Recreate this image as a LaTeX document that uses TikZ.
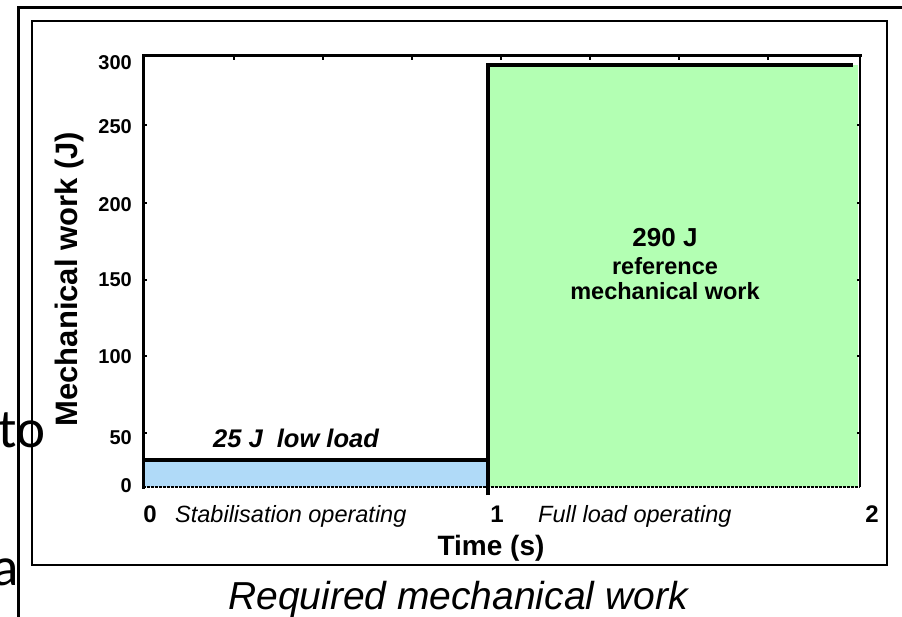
\documentclass[tikz,border=0pt]{standalone}
\usepackage{fontspec}
\setmainfont{Liberation Sans}
\newfontfamily\slidefont{Carlito}
\usepackage{tikz}
\usetikzlibrary{positioning}
\definecolor{lowblue}{HTML}{B0DAF8}
\definecolor{fullgreen}{HTML}{B3FFB3}

\begin{document}
\begin{tikzpicture}[x=1pt, y=-1pt]
    \tikzstyle{ticklabel} = [anchor=base east, inner sep=0pt, font=\fontsize{20}{22}\selectfont\bfseries]
    \tikzstyle{timelabel} = [anchor=base, inner sep=0pt, font=\fontsize{24}{26}\selectfont\bfseries]
    \tikzstyle{phase} = [anchor=base west, inner sep=0pt, font=\fontsize{23.5}{26}\selectfont\itshape]
    \tikzstyle{axistitle} = [anchor=base, inner sep=0pt, font=\fontsize{28}{30}\selectfont\bfseries]
    \tikzstyle{barnote} = [anchor=base, inner sep=0pt, font=\fontsize{23.5}{26}\selectfont\bfseries]
    \tikzstyle{slidetext} = [anchor=base west, inner sep=0pt, font=\slidefont\fontsize{55}{60}\selectfont]

    \useasboundingbox (0,0) rectangle (902,617);
    \clip (0,0) rectangle (902,617);

    % slide text behind the figure
    \node (slideto) [slidetext] at (-2,447) {to};
    \node (slidea) [slidetext] at (-8,585) {a};

    % frames
    \draw [line width=3pt] (18,620) -- (18,8) -- (905,8);
    \draw [line width=2.5pt] (32,21) rectangle (887,565);

    % bars
    \fill [lowblue] (143,460) rectangle (488,487);
    \fill [fullgreen] (488,65) rectangle (858,487);
    \draw [line width=4pt] (143,460) -- (488,460);
    \draw [line width=3.5pt] (488,495) -- (488,65) -- (853,65);

    % axes
    \draw [line width=3pt, line cap=rect] (143,487) -- (143,56) -- (860,56);
    \draw [line width=2.5pt] (860,54.5) -- (860,487);
    \draw [line width=2pt, dash pattern=on 3pt off 1pt] (143,487) -- (860,487);
    \foreach \ty in {125,203,280,356,433} {
      \draw [line width=2pt] (143,\ty) -- +(4,0);
      \draw [line width=2pt] (860,\ty) -- +(-3.5,0);
    }
    \foreach \tx in {234,323,412,501,590,679,768} {
      \draw [line width=2pt] (\tx,56) -- +(0,4);
    }

    % tick labels
    \foreach \val/\ty in {300/70, 250/134, 200/212, 150/287, 100/364, 50/444, 0/492} {
      \node (y\val) [ticklabel] at (132,\ty) {\val};
    }
    \node (x0) [timelabel] at (150,522) {0};
    \node (x1) [timelabel] at (497,522) {1};
    \node (x2) [timelabel] at (872,522) {2};
    \node (stab) [phase] at (175,522) {Stabilisation operating};
    \node (full) [phase] at (538,522) {Full load operating};

    % axis titles
    \node (xtitle) [axistitle] at (491,555) {Time (s)};
    \node (ytitle) [axistitle, rotate=90, font=\fontsize{31}{33}\selectfont\bfseries] at (77,279) {Mechanical work (J)};

    % bar notes
    \node (lownote) [barnote, font=\fontsize{25.5}{28}\selectfont\bfseries\itshape] at (296,447) {25 J\ \ low load};
    \node (fullval) [barnote, font=\fontsize{26}{28}\selectfont\bfseries] at (665,247) {290 J};
    \node (fullref) [barnote] at (665,275) {reference};
    \node (fullwork) [barnote] at (665,300) {mechanical work};

    % caption
    \node (caption) [anchor=base, inner sep=0pt, font=\fontsize{39}{42}\selectfont\itshape] at (458,609) {Required mechanical work};
\end{tikzpicture}
\end{document}
